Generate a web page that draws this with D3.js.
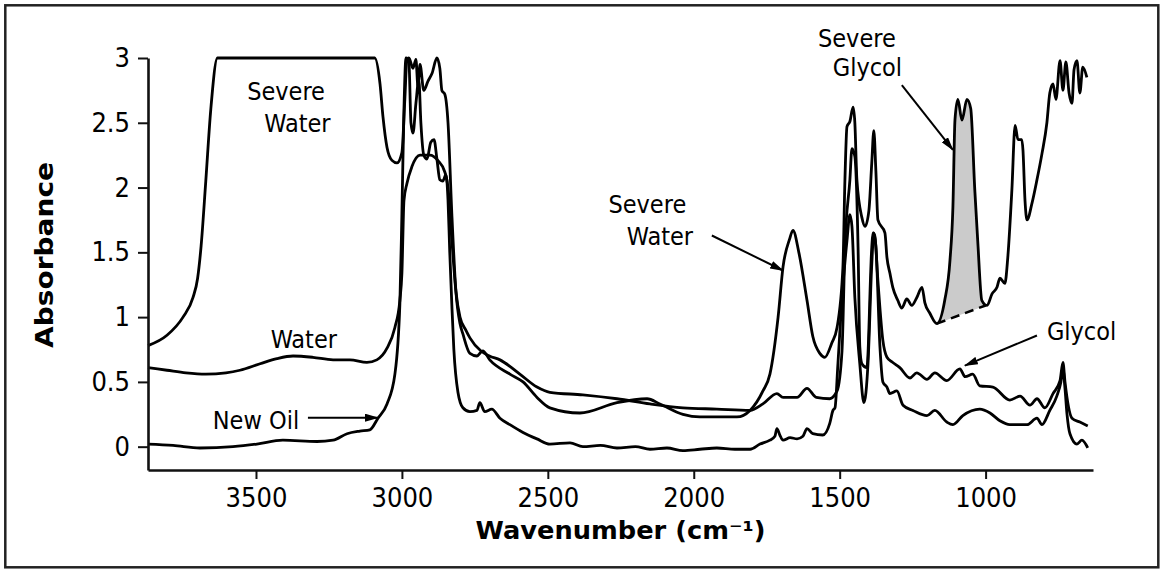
<!DOCTYPE html>
<html>
<head>
<meta charset="utf-8">
<script src="https://cdn.jsdelivr.net/npm/d3@7"></script>
<style>
  html, body { margin: 0; padding: 0; background: #fff; }
  svg { display: block; }
</style>
</head>
<body>
<div id="chart"></div>
<script>
// spectra: [wavenumber cm-1, absorbance]
const newOil = [
  [3870,0.02],[3784,0.01],[3692,-0.01],[3579,0.0],[3497,0.02],[3408,0.05],[3291,0.04],[3236,0.05],
  [3188,0.1],[3144,0.12],[3110,0.13],[3082,0.22],[3051,0.33],[3024,0.56],[3007,1.1],[3000,1.8],
  [2993,2.6],[2986,3.0],[2976,2.97],[2969,2.5],[2962,2.42],[2952,2.65],[2942,2.83],[2935,2.5],
  [2925,2.25],[2914,2.22],[2901,2.35],[2890,2.37],[2880,2.22],[2870,2.06],[2860,2.05],[2849,2.1],
  [2842,1.9],[2836,1.5],[2829,1.1],[2822,0.75],[2808,0.42],[2791,0.3],[2767,0.27],[2743,0.28],
  [2733,0.34],[2716,0.27],[2692,0.29],[2664,0.22],[2630,0.17],[2585,0.11],[2537,0.06],[2493,0.02],
  [2424,0.03],[2380,0.0],[2320,0.01],[2263,-0.01],[2200,0.0],[2150,-0.02],[2092,-0.01],[2037,-0.03],
  [1979,-0.02],[1921,-0.01],[1859,-0.02],[1807,-0.02],[1773,0.02],[1739,0.05],[1722,0.08],[1715,0.14],
  [1705,0.09],[1694,0.05],[1670,0.07],[1646,0.06],[1626,0.08],[1612,0.14],[1592,0.1],[1558,0.09],
  [1534,0.18],[1523,0.28],[1516,0.3],[1506,0.64],[1492,1.15],[1475,1.59],[1465,1.79],[1458,1.7],
  [1448,1.15],[1431,0.64],[1417,0.34],[1403,0.64],[1390,1.41],[1383,1.65],[1376,1.55],[1362,0.77],
  [1352,0.5],[1338,0.46],[1328,0.41],[1304,0.43],[1283,0.32],[1249,0.28],[1201,0.24],[1174,0.28],
  [1133,0.19],[1112,0.17],[1078,0.24],[1020,0.29],[985,0.26],[951,0.2],[917,0.17],[858,0.17],
  [824,0.22],[807,0.17],[780,0.28],[756,0.39],[742,0.5],[735,0.6],[728,0.45],[721,0.25],
  [711,0.1],[687,0.02],[670,0.05],[650,-0.01]
];

const water = [
  [3870,0.61],[3805,0.59],[3740,0.57],[3672,0.56],[3603,0.57],[3555,0.59],[3486,0.64],[3428,0.68],
  [3373,0.7],[3305,0.69],[3236,0.67],[3178,0.67],[3120,0.65],[3086,0.67],[3051,0.76],[3024,0.92],
  [3007,1.13],[3000,1.34],[2993,1.9],[2983,2.03],[2966,2.16],[2938,2.25],[2904,2.25],[2877,2.21],
  [2853,2.12],[2842,2.0],[2829,1.6],[2815,1.2],[2801,1.0],[2781,0.9],[2767,0.84],[2730,0.74],
  [2700,0.7],[2664,0.67],[2596,0.56],[2537,0.46],[2493,0.42],[2380,0.4],[2263,0.37],[2150,0.33],
  [2037,0.3],[1921,0.29],[1807,0.28],[1763,0.33],[1715,0.41],[1694,0.38],[1646,0.38],[1612,0.45],
  [1580,0.38],[1534,0.37],[1509,0.43],[1492,0.74],[1482,1.54],[1465,2.06],[1458,2.3],[1448,2.24],
  [1437,1.54],[1431,0.77],[1424,0.64],[1407,0.61],[1390,1.54],[1386,1.65],[1380,1.63],[1369,1.28],
  [1352,0.82],[1338,0.69],[1318,0.65],[1294,0.61],[1259,0.53],[1236,0.57],[1201,0.52],[1174,0.57],
  [1133,0.51],[1088,0.6],[1070,0.54],[1044,0.56],[1020,0.47],[975,0.46],[917,0.36],[882,0.39],
  [848,0.32],[824,0.37],[797,0.3],[769,0.41],[745,0.51],[735,0.65],[728,0.5],[704,0.22],
  [677,0.19],[650,0.16]
];

const severeWater = [
  [3870,0.78],[3805,0.86],[3750,1.0],[3716,1.15],[3700,1.3],[3688,1.55],[3672,2.05],[3655,2.6],
  [3632,3.0],[3093,3.0],[3075,2.8],[3065,2.55],[3051,2.31],[3034,2.21],[3017,2.19],[3000,2.27],
  [2990,2.68],[2983,2.98],[2976,3.0],[2962,2.92],[2952,2.99],[2945,2.78],[2938,2.95],[2925,2.75],
  [2911,2.82],[2897,2.88],[2880,3.0],[2870,2.92],[2863,2.75],[2853,2.72],[2842,2.5],[2829,1.8],
  [2815,1.2],[2801,0.95],[2791,0.87],[2767,0.72],[2743,0.7],[2723,0.74],[2699,0.67],[2630,0.56],
  [2585,0.5],[2537,0.38],[2493,0.3],[2390,0.26],[2263,0.34],[2160,0.37],[2116,0.33],[2037,0.25],
  [1979,0.23],[1852,0.23],[1807,0.28],[1763,0.43],[1739,0.56],[1711,1.0],[1694,1.39],[1672,1.6],
  [1660,1.67],[1640,1.5],[1612,1.13],[1592,0.85],[1568,0.72],[1551,0.69],[1527,0.8],[1509,0.92],
  [1489,1.38],[1482,2.06],[1475,2.47],[1465,2.51],[1454,2.62],[1448,2.5],[1441,2.06],[1424,1.77],
  [1413,1.7],[1400,1.82],[1390,2.19],[1383,2.44],[1376,2.13],[1369,1.75],[1345,1.65],[1338,1.46],
  [1328,1.34],[1318,1.23],[1301,1.13],[1287,1.07],[1270,1.14],[1253,1.09],[1236,1.15],[1218,1.23],
  [1208,1.11],[1191,1.03],[1167,0.95],[1140,1.13],[1122,1.44],[1112,1.85],[1105,2.52],[1095,2.68],
  [1081,2.52],[1064,2.68],[1051,2.61],[1037,1.98],[1027,1.59],[1013,1.13],[995,1.09],[978,1.18],
  [961,1.23],[951,1.3],[934,1.26],[924,1.46],[910,1.98],[899,2.48],[889,2.37],[876,2.37],
  [872,2.29],[865,1.9],[858,1.75],[841,1.88],[824,2.06],[807,2.26],[790,2.5],[780,2.73],
  [769,2.8],[759,2.68],[745,2.98],[735,2.75],[725,2.97],[714,2.73],[704,2.65],[697,2.91],
  [687,2.98],[677,2.73],[667,2.93],[653,2.85]
];

// dashed baseline under the shaded glycol band
const glycolBase = [[1167,0.95],[1000,1.09]];

const xDomain = [3870, 632];
const yDomain = [-0.18, 3];
const xTicks = [3500, 3000, 2500, 2000, 1500, 1000];
const yTicks = [0, 0.5, 1, 1.5, 2, 2.5, 3];

const labels = [
  {text: "Severe", wn: 3397, abs: 2.675, anchor: "middle"},
  {text: "Water", wn: 3358, abs: 2.43, anchor: "middle"},
  {text: "Water", wn: 3336, abs: 0.758, anchor: "middle"},
  {text: "New Oil", wn: 3500, abs: 0.139, anchor: "middle"},
  {text: "Severe", wn: 2159, abs: 1.80, anchor: "middle"},
  {text: "Water", wn: 2116, abs: 1.554, anchor: "middle"},
  {text: "Severe", wn: 1441, abs: 3.085, anchor: "middle"},
  {text: "Glycol", wn: 1405, abs: 2.86, anchor: "middle"},
  {text: "Glycol", wn: 790, abs: 0.827, anchor: "start"}
];

const arrows = [
  {from: [3322, 0.224], to: [3082, 0.224]},
  {from: [1938, 1.63], to: [1694, 1.36]},
  {from: [1287, 2.79], to: [1112, 2.29]},
  {from: [824, 0.858], to: [1071, 0.626]}
];

const width = 1161, height = 569;
const margin = {top: 58, right: 68, bottom: 99, left: 148};
const FONT = '"DejaVu Sans Condensed", "DejaVu Sans", sans-serif';
const TITLE_FONT = '"DejaVu Sans", sans-serif';

const svg = d3.select("#chart").append("svg")
    .attr("width", width)
    .attr("height", height);

svg.append("rect")
    .attr("x", 5.3).attr("y", 5.3)
    .attr("width", 1153).attr("height", 562)
    .attr("fill", "none")
    .attr("stroke", "#222")
    .attr("stroke-width", 2.5);

const x = d3.scaleLinear().domain(xDomain).range([margin.left, width - margin.right]);
const y = d3.scaleLinear().domain(yDomain).range([height - margin.bottom, margin.top]);

const g = svg.append("g");

// shaded glycol peak
const base = d3.scaleLinear().domain(glycolBase.map(d => d[0])).range(glycolBase.map(d => d[1]));
const lo = glycolBase[1][0], hi = glycolBase[0][0];
const sw = severeWater.slice().reverse(); // ascending wavenumber
const i = d3.bisector(d => d[0]).left(sw, lo);
const endVal = d3.interpolateNumber(sw[i - 1][1], sw[i][1])((lo - sw[i - 1][0]) / (sw[i][0] - sw[i - 1][0]));
const band = [[lo, endVal]].concat(severeWater.filter(d => d[0] > lo && d[0] <= hi).reverse());

g.append("path")
    .datum(band)
    .attr("fill", "#cbcbcb")
    .attr("d", d3.area()
        .x(d => x(d[0]))
        .y0(d => y(base(d[0])))
        .y1(d => y(d[1]))
        .curve(d3.curveMonotoneX));

const line = d3.line()
    .x(d => x(d[0]))
    .y(d => y(d[1]))
    .curve(d3.curveMonotoneX);

g.selectAll("path.spectrum")
    .data([newOil, water, severeWater])
    .join("path")
    .attr("class", "spectrum")
    .attr("fill", "none")
    .attr("stroke", "#000")
    .attr("stroke-width", 2.8)
    .attr("stroke-linejoin", "round")
    .attr("d", line);

g.append("path")
    .datum(glycolBase)
    .attr("fill", "none")
    .attr("stroke", "#000")
    .attr("stroke-width", 2.5)
    .attr("stroke-dasharray", "9,6")
    .attr("d", d3.line().x(d => x(d[0])).y(d => y(d[1])));

// axes
const xAxis = svg.append("g")
    .attr("transform", `translate(0,${height - margin.bottom})`)
    .call(d3.axisBottom(x).tickValues(xTicks).tickSize(9).tickSizeOuter(0).tickPadding(9).tickFormat(d3.format("d")));

const yAxis = svg.append("g")
    .attr("transform", `translate(${margin.left},0)`)
    .call(d3.axisLeft(y).tickValues(yTicks).tickSize(10).tickSizeOuter(0).tickPadding(8).tickFormat(d3.format("")));

[xAxis, yAxis].forEach(a => {
    a.select(".domain").attr("stroke", "#111").attr("stroke-width", 2.6);
    a.selectAll(".tick line").attr("stroke", "#111").attr("stroke-width", 2);
    a.selectAll(".tick text")
        .attr("fill", "#000")
        .attr("font-family", FONT)
        .attr("font-size", 27);
});

svg.append("text")
    .attr("x", (margin.left + width - margin.right) / 2)
    .attr("y", 539)
    .attr("text-anchor", "middle")
    .attr("font-family", TITLE_FONT)
    .attr("font-weight", "bold")
    .attr("font-size", 25)
    .attr("textLength", 290)
    .attr("lengthAdjust", "spacingAndGlyphs")
    .text("Wavenumber (cm\u207B\u00B9)");

svg.append("text")
    .attr("transform", "translate(53,255) rotate(-90)")
    .attr("text-anchor", "middle")
    .attr("font-family", TITLE_FONT)
    .attr("font-weight", "bold")
    .attr("font-size", 25)
    .attr("textLength", 186)
    .attr("lengthAdjust", "spacingAndGlyphs")
    .text("Absorbance");

// annotations
svg.append("defs").append("marker")
    .attr("id", "head")
    .attr("viewBox", "0 0 14 8")
    .attr("refX", 13).attr("refY", 4)
    .attr("markerWidth", 14).attr("markerHeight", 8)
    .attr("markerUnits", "userSpaceOnUse")
    .attr("orient", "auto")
    .append("path")
    .attr("d", "M0,0L14,4L0,8Z")
    .attr("fill", "#000");

svg.append("g")
    .selectAll("line")
    .data(arrows)
    .join("line")
    .attr("x1", d => x(d.from[0]))
    .attr("y1", d => y(d.from[1]))
    .attr("x2", d => x(d.to[0]))
    .attr("y2", d => y(d.to[1]))
    .attr("stroke", "#000")
    .attr("stroke-width", 2)
    .attr("marker-end", "url(#head)");

svg.append("g")
    .attr("font-family", FONT)
    .attr("font-size", 25)
    .selectAll("text")
    .data(labels)
    .join("text")
    .attr("x", d => x(d.wn))
    .attr("y", d => y(d.abs))
    .attr("text-anchor", d => d.anchor)
    .text(d => d.text);
</script>
</body>
</html>
